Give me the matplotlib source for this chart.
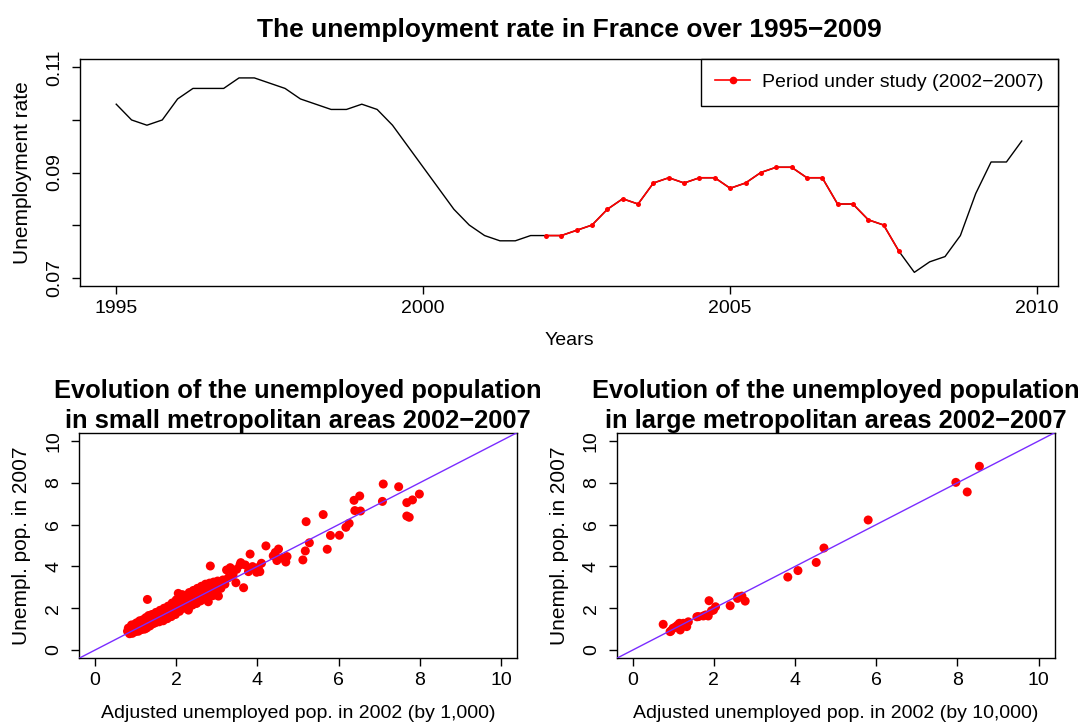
import numpy as np
import matplotlib
matplotlib.use("Agg")
import matplotlib.pyplot as plt
from matplotlib.lines import Line2D

plt.rcParams['font.family'] = ['Liberation Sans', 'DejaVu Sans']

# Quarterly unemployment rate in France, 1995Q1 - 2009Q4
years = np.arange(1995, 2010, 0.25)
rate = [
    0.103, 0.100, 0.099, 0.100,   # 1995
    0.104, 0.106, 0.106, 0.106,   # 1996
    0.108, 0.108, 0.107, 0.106,   # 1997
    0.104, 0.103, 0.102, 0.102,   # 1998
    0.103, 0.102, 0.099, 0.095,   # 1999
    0.091, 0.087, 0.083, 0.080,   # 2000
    0.078, 0.077, 0.077, 0.078,   # 2001
    0.078, 0.078, 0.079, 0.080,   # 2002
    0.083, 0.085, 0.084, 0.088,   # 2003
    0.089, 0.088, 0.089, 0.089,   # 2004
    0.087, 0.088, 0.090, 0.091,   # 2005
    0.091, 0.089, 0.089, 0.084,   # 2006
    0.084, 0.081, 0.080, 0.075,   # 2007
    0.071, 0.073, 0.074, 0.078,   # 2008
    0.086, 0.092, 0.092, 0.096,   # 2009
]
study_start, study_end = 2002.0, 2007.75

# Small metropolitan areas: unemployed (thousands), 2002 adjusted vs 2007
small_2002 = [
    0.80, 0.82, 0.85, 0.88, 0.90, 0.92, 0.95, 0.97, 1.00, 1.02,
    1.05, 1.07, 1.10, 1.12, 1.15, 1.18, 1.20, 1.22, 1.25, 1.27,
    1.30, 1.32, 1.35, 1.38, 1.40, 1.42, 1.45, 1.48, 1.50, 1.52,
    1.55, 1.58, 1.60, 1.62, 1.65, 1.68, 1.70, 1.72, 1.75, 1.78,
    1.80, 1.82, 1.85, 1.88, 1.90, 1.92, 1.95, 1.98, 2.00, 2.02,
    2.05, 2.08, 2.10, 2.12, 2.15, 2.18, 2.20, 2.22, 2.25, 2.28,
    2.30, 2.32, 2.35, 2.38, 2.40, 2.42, 2.45, 2.48, 2.50, 2.52,
    2.55, 2.58, 2.60, 2.62, 2.65, 2.68, 2.70, 2.72, 2.75, 2.78,
    2.80, 2.82, 2.85, 2.88, 2.90, 2.92, 2.95, 2.98, 3.00, 3.02,
    3.05, 3.08, 3.10, 3.15, 3.20, 2.30, 2.50, 3.04, 2.79, 2.05,
    7.10, 7.48, 7.99, 7.82, 7.68, 7.08, 6.52, 6.38, 6.40, 6.54,
    7.68, 7.74, 5.62, 5.20, 6.26, 6.18, 6.02, 5.80, 5.28, 5.18,
    5.72, 5.12, 4.73, 4.70, 4.52, 4.44, 4.21, 4.39, 4.48, 3.82,
    4.02, 4.06, 3.98, 3.57, 3.88, 3.78, 3.70, 3.59, 3.49, 3.33,
    3.24, 3.47, 3.66, 2.84, 1.29, 3.40, 3.28, 4.10, 4.60,
]
small_2007 = [
    0.90, 1.05, 0.78, 0.98, 1.20, 0.80, 1.00, 1.22, 0.88, 1.30,
    1.10, 0.90, 1.40, 1.20, 0.98, 1.45, 1.25, 1.00, 1.55, 1.05,
    1.35, 1.65, 1.15, 1.50, 1.70, 1.25, 1.55, 1.30, 1.80, 1.35,
    1.65, 1.35, 1.90, 1.45, 1.75, 1.40, 2.00, 1.55, 1.85, 1.50,
    2.10, 1.65, 1.95, 1.60, 2.25, 1.75, 2.10, 1.70, 2.40, 1.95,
    2.25, 1.85, 2.55, 2.05, 2.65, 2.00, 2.35, 2.60, 2.10, 2.50,
    2.00, 2.75, 2.30, 2.60, 2.15, 2.85, 2.40, 2.70, 2.25, 2.95,
    2.50, 2.80, 2.35, 3.05, 2.60, 2.90, 2.45, 3.15, 2.70, 3.00,
    2.55, 3.20, 2.80, 3.10, 2.60, 3.25, 2.90, 3.15, 2.65, 3.30,
    3.05, 3.25, 2.95, 3.35, 3.15, 1.91, 2.23, 2.58, 2.31, 2.71,
    7.94, 7.81, 7.46, 7.18, 7.05, 7.11, 7.37, 7.16, 6.67, 6.65,
    6.41, 6.35, 6.48, 6.14, 6.06, 5.87, 5.49, 5.48, 5.13, 4.74,
    4.82, 4.31, 4.47, 4.21, 4.83, 4.67, 4.98, 4.51, 4.28, 4.59,
    3.95, 3.75, 3.72, 4.07, 3.99, 3.75, 4.07, 4.18, 3.86, 3.94,
    3.83, 3.22, 2.98, 4.02, 2.42, 3.60, 3.45, 4.15, 4.40,
]

# Large metropolitan areas: unemployed (ten thousands), 2002 adjusted vs 2007
large_2002 = [
    8.54, 7.96, 8.24, 5.80, 4.71, 4.52, 4.07, 3.82, 2.69, 2.60,
    2.58, 2.77, 2.40, 1.88, 2.04, 1.99, 1.94, 1.86, 1.74, 1.58,
    1.37, 1.33, 1.25, 1.15, 1.17, 0.99, 0.94, 0.75, 1.05, 1.10,
    1.20, 1.30, 0.92, 1.62, 1.80,
]
large_2007 = [
    8.79, 8.02, 7.56, 6.22, 4.88, 4.19, 3.80, 3.49, 2.58, 2.55,
    2.47, 2.34, 2.12, 2.36, 2.07, 1.91, 1.88, 1.63, 1.63, 1.59,
    1.35, 1.12, 1.28, 1.28, 0.96, 1.04, 0.91, 1.23, 1.10, 1.18,
    1.10, 1.22, 0.88, 1.60, 1.68,
]

top_yticks = [0.07, 0.08, 0.09, 0.10, 0.11]
top_yticklabels = ["0.07", "", "0.09", "", "0.11"]
top_xticks = [1995, 2000, 2005, 2010]
scatter_ticks = [0, 2, 4, 6, 8, 10]

FS = 14
YFS = 15
TFS = 19
SUB_TFS = 18.4
W, H = 1086, 725
fig = plt.figure(figsize=(W / 100, H / 100), dpi=100)


def frac(left, top, right, bottom):
    return [left / W, 1 - bottom / H, (right - left) / W, (bottom - top) / H]


def style_axes(ax):
    for sp in ax.spines.values():
        sp.set_linewidth(1.0)
        sp.set_color('black')
    ax.tick_params(direction='out', length=6, width=1.0, labelsize=FS,
                   pad=4, colors='black')
    ax.tick_params(axis='y', labelrotation=90, pad=6)
    for lab in ax.get_yticklabels():
        lab.set_va('center')


# ---- Top: time series ----
ax = fig.add_axes(frac(80, 59, 1058, 286))
ax.plot(years, rate, color='black', lw=1.0)
yrs = np.asarray(years)
rt = np.asarray(rate)
mask = (yrs >= study_start - 1e-9) & (yrs <= study_end + 1e-9)
ax.plot(yrs[mask], rt[mask], color='red', lw=1.2, marker='o', markersize=3.6,
        markeredgewidth=0)
ax.set_xlim(1994.41, 2010.34)
ax.set_ylim(0.0684, 0.1116)
ax.set_xticks(top_xticks)
ax.set_xticklabels([str(t) for t in top_xticks])
ax.set_yticks(top_yticks)
ax.set_yticklabels(top_yticklabels)
style_axes(ax)
ax.set_xlabel("Years", fontsize=FS, labelpad=11)
ax.set_ylabel("Unemployment rate", fontsize=YFS, labelpad=10)
ax.set_title("The unemployment rate in France over 1995\u22122009",
             fontsize=TFS, fontweight='bold', pad=16)
handle = Line2D([], [], color='red', lw=1.2, marker='o', markersize=5.5,
                markeredgewidth=0)
leg = ax.legend([handle], ["Period under study (2002\u22122007)"],
                loc='upper right', bbox_to_anchor=(1.0, 1.0),
                borderaxespad=0, fontsize=FS, fancybox=False,
                framealpha=1, edgecolor='black', handlelength=1.8,
                borderpad=0.75, handletextpad=0.6)
leg.get_frame().set_linewidth(1.0)


def scatter_panel(rect, xs, ys, title, xlabel):
    a = fig.add_axes(rect)
    a.scatter(xs, ys, s=42, color='red', edgecolors='none', zorder=2)
    a.plot([-1, 11], [-1, 11], color='#7a2cff', lw=1.0, zorder=3)
    a.set_xlim(-0.4, 10.4)
    a.set_ylim(-0.4, 10.4)
    a.set_xticks(scatter_ticks)
    a.set_yticks(scatter_ticks)
    a.set_xticklabels([str(t) for t in scatter_ticks])
    a.set_yticklabels([str(t) for t in scatter_ticks])
    style_axes(a)
    a.set_xlabel(xlabel, fontsize=FS, labelpad=11)
    a.set_ylabel("Unempl. pop. in 2007", fontsize=YFS, labelpad=10)
    a.set_title(title, fontsize=SUB_TFS, fontweight='bold', pad=3,
                linespacing=1.27)
    return a


scatter_panel(frac(78.8, 432.6, 517.2, 658.4), small_2002, small_2007,
              "Evolution of the unemployed population\nin small metropolitan areas 2002\u22122007",
              "Adjusted unemployed pop. in 2002 (by 1,000)")
scatter_panel(frac(616.5, 432.6, 1054.9, 658.4), large_2002, large_2007,
              "Evolution of the unemployed population\nin large metropolitan areas 2002\u22122007",
              "Adjusted unemployed pop. in 2002 (by 10,000)")

fig.savefig("out.png", dpi=100, facecolor='white')
